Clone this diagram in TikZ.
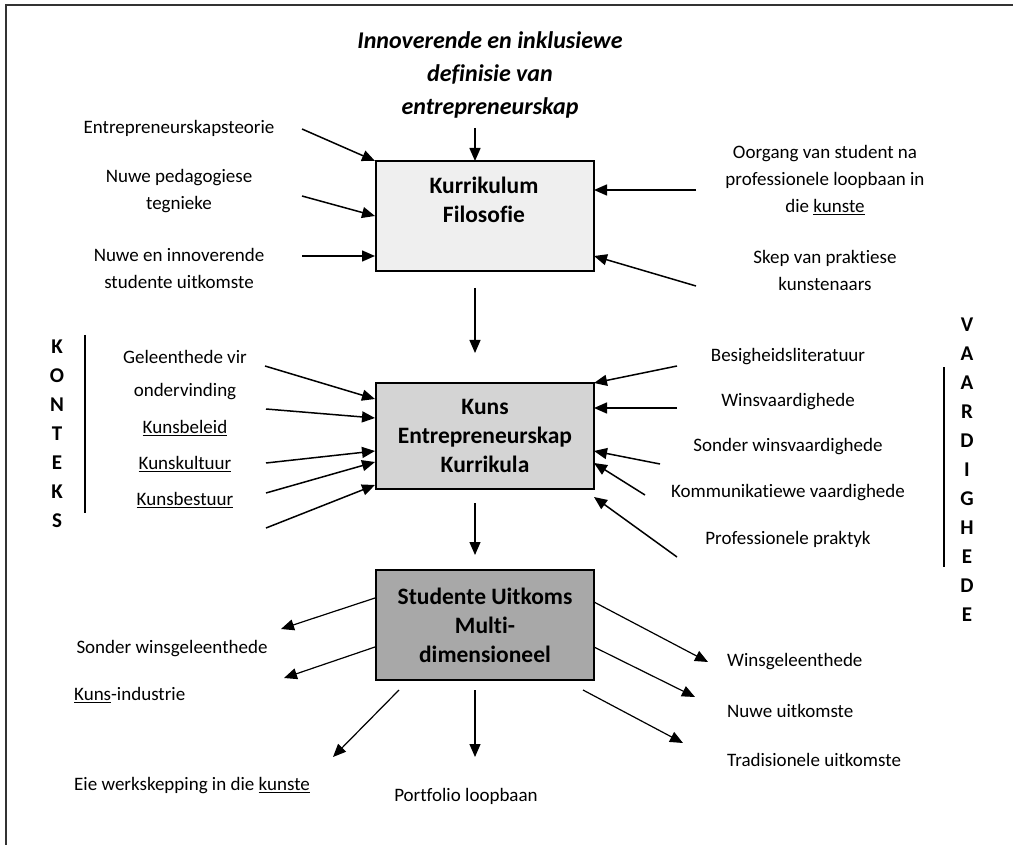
\documentclass[tikz,border=0pt]{standalone}
\usepackage{fontspec}
\setmainfont{Carlito}[Ligatures={NoCommon,NoRequired,NoContextual},RawFeature={-liga;-clig;-dlig}]
\usetikzlibrary{arrows.meta}
\definecolor{fillA}{HTML}{EFEFEF}
\definecolor{fillB}{HTML}{D4D4D4}
\definecolor{fillC}{HTML}{A8A8A8}
\definecolor{framec}{HTML}{333333}
\tikzset{
  lbl/.style={font=\fontsize{19}{27}\selectfont, inner sep=0pt, align=center},
  lblL/.style={font=\fontsize{19}{27}\selectfont, inner sep=0pt, anchor=west},
  boxA/.style={draw=black, line width=1.8pt, minimum width=218pt, inner sep=0pt},
  boxtxt/.style={font=\bfseries\fontsize{23.5}{29}\selectfont, align=center, inner sep=0pt},
  arr/.style={line width=1.5pt, -{Triangle[length=13pt,width=11pt]}},
  arrthin/.style={line width=1.2pt, -{Triangle[length=13pt,width=11pt]}},
  sidew/.style={font=\bfseries\fontsize{21}{29}\selectfont, align=center, inner sep=0pt},
}
\begin{document}
\begin{tikzpicture}[x=1pt,y=-1pt]
\useasboundingbox (0,0) rectangle (1013,845);
% frame
\draw[framec, line width=2.5pt] (6,845) -- (6,5) -- (1013,5);

% title
\node[font=\bfseries\itshape\fontsize{24}{33}\selectfont, align=center, inner sep=0pt] (title) at (490,75) {Innoverende en inklusiewe\\definisie van\\entrepreneurskap};

% boxes
\node[boxA, fill=fillA, minimum height=110pt] (b1) at (485,216) {};
\node[boxtxt] (b1t) at (484,200) {Kurrikulum\\Filosofie};
\node[boxA, fill=fillB, minimum height=106pt, boxtxt] (b2) at (485,436) {Kuns\\Entrepreneurskap\\Kurrikula};
\node[boxA, fill=fillC, minimum height=110pt, boxtxt] (b3) at (485,625) {Studente Uitkoms\\Multi-\\dimensioneel};

% top labels
\node[lbl] (l1) at (179,128) {Entrepreneurskapsteorie};
\node[lbl] (l2) at (179,191) {Nuwe pedagogiese\\tegnieke};
\node[lbl] (l3) at (179,268) {Nuwe en innoverende\\studente uitkomste};
\node[lbl] (r1) at (825,180) {Oorgang van student na\\professionele loopbaan in\\die \underline{kunste}};
\node[lbl] (r2) at (825,270) {Skep van praktiese\\kunstenaars};

% middle labels
\node[lbl] (m1) at (185,357) {Geleenthede vir};
\node[lbl] (m2) at (185,392) {ondervinding};
\node[lbl] (m3) at (185,428) {\underline{Kunsbeleid}};
\node[lbl] (m4) at (185,464) {\underline{Kunskultuur}};
\node[lbl] (m5) at (185,500) {\underline{Kunsbestuur}};
\node[lbl] (n1) at (788,357) {Besigheidsliteratuur};
\node[lbl] (n2) at (788,402) {Winsvaardighede};
\node[lbl] (n3) at (788,447) {Sonder winsvaardighede};
\node[lbl] (n4) at (788,493) {Kommunikatiewe vaardighede};
\node[lbl] (n5) at (788,539) {Professionele praktyk};

% side words
\node[sidew] (kon) at (57,434) {K\\O\\N\\T\\E\\K\\S};
\coordinate (konA) at (85,335);
\coordinate (konB) at (85,513);
\draw[line width=1.5pt] (konA) -- (konB);
\node[sidew] (vaa) at (967,470) {V\\A\\A\\R\\D\\I\\G\\H\\E\\D\\E};
\coordinate (vaaA) at (944,367);
\coordinate (vaaB) at (944,567);
\draw[line width=1.5pt] (vaaA) -- (vaaB);

% bottom labels
\node[lbl] (o1) at (172,649) {Sonder winsgeleenthede};
\node[lblL] (o2) at (74,695) {\underline{Kuns}-industrie};
\node[lblL] (o3) at (74,786) {Eie werkskepping in die \underline{kunste}};
\node[lbl] (o4) at (466,796) {Portfolio loopbaan};
\node[lblL] (p1) at (727,662) {Winsgeleenthede};
\node[lblL] (p2) at (727,711) {Nuwe uitkomste};
\node[lblL] (p3) at (727,760) {Tradisionele uitkomste};

% arrow coordinates - top
\coordinate (t0s) at (475,128); \coordinate (t0e) at (475,161);
\coordinate (t1s) at (302,129); \coordinate (t1e) at (375,161);
\coordinate (t2s) at (302,196); \coordinate (t2e) at (375,216);
\coordinate (t3s) at (302,256); \coordinate (t3e) at (375,256);
\coordinate (t4s) at (696,190); \coordinate (t4e) at (594,190);
\coordinate (t5s) at (696,286); \coordinate (t5e) at (594,256);
\coordinate (d1s) at (475,288); \coordinate (d1e) at (475,353);
\draw[arr] (t0s) -- (t0e);
\draw[arr] (t1s) -- (t1e);
\draw[arr] (t2s) -- (t2e);
\draw[arr] (t3s) -- (t3e);
\draw[arr] (t4s) -- (t4e);
\draw[arr] (t5s) -- (t5e);
\draw[arrthin] (d1s) -- (d1e);

% middle arrows
\coordinate (a1s) at (265,366); \coordinate (a1e) at (375,399);
\coordinate (a2s) at (266,409); \coordinate (a2e) at (375,418);
\coordinate (a3s) at (266,463); \coordinate (a3e) at (375,451);
\coordinate (a4s) at (266,493); \coordinate (a4e) at (375,462);
\coordinate (a5s) at (266,528); \coordinate (a5e) at (375,485);
\coordinate (c1s) at (677,366); \coordinate (c1e) at (594,383);
\coordinate (c2s) at (677,408); \coordinate (c2e) at (594,408);
\coordinate (c3s) at (660,464); \coordinate (c3e) at (594,451);
\coordinate (c4s) at (645,495); \coordinate (c4e) at (594,463);
\coordinate (c5s) at (677,557); \coordinate (c5e) at (594,497);
\coordinate (d2s) at (475,503); \coordinate (d2e) at (475,555);
\foreach \i in {1,...,5} {\draw[arr] (a\i s) -- (a\i e); \draw[arr] (c\i s) -- (c\i e);}
\draw[arrthin] (d2s) -- (d2e);

% bottom arrows
\coordinate (e1s) at (375,598); \coordinate (e1e) at (281,629);
\coordinate (e2s) at (375,647); \coordinate (e2e) at (284,678);
\coordinate (e3s) at (399,690); \coordinate (e3e) at (333,757);
\coordinate (e4s) at (475,690); \coordinate (e4e) at (475,757);
\coordinate (e5s) at (583,690); \coordinate (e5e) at (683,743);
\coordinate (e6s) at (594,602); \coordinate (e6e) at (708,662);
\coordinate (e7s) at (594,647); \coordinate (e7e) at (695,697);
\foreach \i in {1,...,7} {\draw[arrthin] (e\i s) -- (e\i e);}
\end{tikzpicture}
\end{document}
